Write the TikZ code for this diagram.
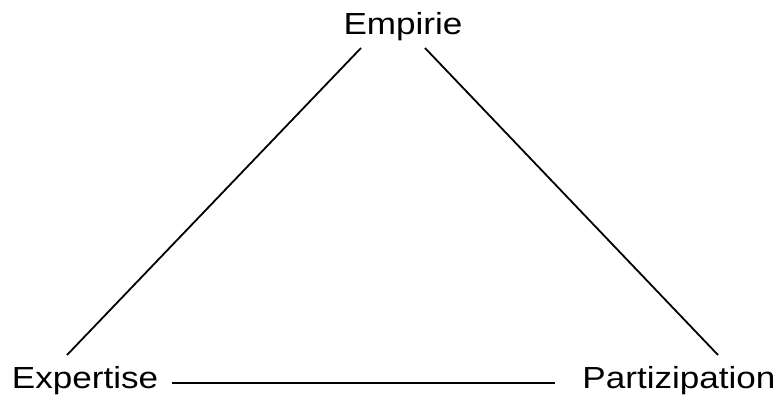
\documentclass[tikz,border=0pt]{standalone}
\usepackage{fontspec}
\setmainfont[FakeStretch=1.15]{Liberation Sans}
\begin{document}
\begin{tikzpicture}[x=1pt,y=1pt,
  lbl/.style={anchor=base,inner sep=0pt,font=\fontsize{30.5}{36}\selectfont},
  edge/.style={line width=1.8pt,line cap=butt}]
\useasboundingbox (0,0) rectangle (782,397);
\node[lbl] (emp) at (403,362) {Empirie};
\node[lbl] (exp) at (85,9) {Expertise};
\node[lbl] (par) at (679,9) {Partizipation};
\coordinate (empL) at (361,349);
\coordinate (empR) at (425,349);
\coordinate (expT) at (67,42);
\coordinate (expR) at (172,14);
\coordinate (parT) at (718,42);
\coordinate (parL) at (555,14);
\draw[edge] (empL) -- (expT);
\draw[edge] (empR) -- (parT);
\draw[edge] (expR) -- (parL);
\end{tikzpicture}
\end{document}
